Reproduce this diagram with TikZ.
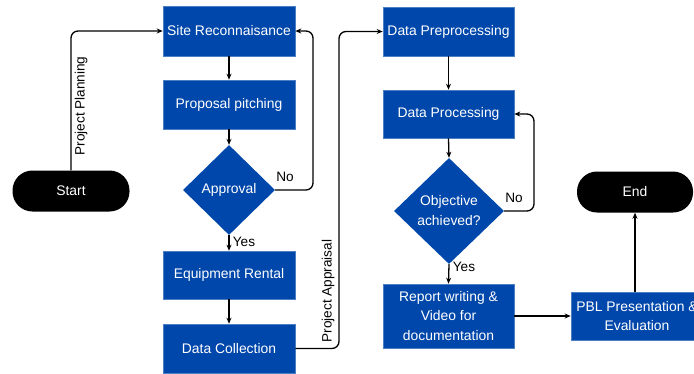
\documentclass[tikz,border=0pt]{standalone}
\usepackage{fontspec}
\setmainfont{Liberation Sans}
\usetikzlibrary{shapes.geometric,arrows.meta}
\definecolor{boxblue}{HTML}{0047AB}
\begin{document}
\begin{tikzpicture}[x=1pt,y=-1pt,
  proc/.style={fill=boxblue,draw=boxblue!70!white,line width=0.6pt,text=white,minimum width=132pt,align=center,inner sep=0pt,font=\fontsize{13.9}{20}\selectfont},
  dec/.style={diamond,fill=boxblue,text=white,inner sep=0pt,align=center,font=\fontsize{13.9}{20}\selectfont},
  term/.style={fill=black,text=white,rounded corners=20pt,minimum width=117pt,minimum height=41pt,inner sep=0pt,font=\fontsize{13.9}{16}\selectfont},
  conn/.style={line width=1.3pt,-{Stealth[length=6pt,width=5pt]},rounded corners=7pt},
  lbl/.style={font=\fontsize{13.6}{16}\selectfont,text=black,inner sep=0pt}]
\useasboundingbox (0,0) rectangle (694,373);
\begin{scope}
\clip (0,0) rectangle (694,373);
% left column
\node[proc,minimum height=50pt] (site) at (229,31) {Site Reconnaisance};
\node[proc,minimum height=49pt] (prop) at (229,104.5) {Proposal pitching};
\node[dec,minimum width=92pt,minimum height=90pt] (appr) at (229,190) {Approval};
\node[proc,minimum height=48pt] (equip) at (229,275) {Equipment Rental};
\node[proc,minimum height=49pt] (coll) at (229,348.5) {Data Collection};
\node[term] (start) at (71,191) {Start};
% middle column
\node[proc,minimum width=131pt,minimum height=49pt] (pre) at (448.5,31.5) {Data Preprocessing};
\node[proc,minimum width=131pt,minimum height=48pt] (dp) at (448.5,114) {Data Processing};
\node[dec,minimum width=110pt,minimum height=106pt] (obj) at (449,211) {Objective\\achieved?};
\node[proc,minimum width=131pt,minimum height=64pt,font=\fontsize{13.9}{19.5}\selectfont] (rep) at (448.5,316) {Report writing \&\\Video for\\documentation};
% right column
\node[proc,minimum width=132pt,minimum height=48pt,font=\fontsize{13.9}{19.5}\selectfont] (pbl) at (637,316) {PBL Presentation \&\\Evaluation};
\node[term,minimum width=116pt] (end) at (635,192) {End};
% connectors
\coordinate (c1) at (71,31);
\draw[conn] (start.north) -- (c1) -- (site.west);
\node[lbl,rotate=90] (pplan) at (81,106) {Project Planning};
\draw[conn] (site.south) -- (prop.north);
\draw[conn] (prop.south) -- (appr.north);
\coordinate (c2) at (313,190);
\coordinate (c3) at (313,31);
\draw[conn] (appr.east) -- (c2) -- (c3) -- (site.east);
\node[lbl] (no1) at (285,177) {No};
\draw[conn] (appr.south) -- (equip.north);
\node[lbl] (yes1) at (244,242) {Yes};
\draw[conn] (equip.south) -- (coll.north);
\coordinate (c4) at (339,348.5);
\coordinate (c5) at (339,31.5);
\draw[conn] (coll.east) -- (c4) -- (c5) -- (pre.west);
\node[lbl,rotate=90] (papp) at (328,291) {Project Appraisal};
\draw[conn] (pre.south) -- (dp.north);
\draw[conn] (dp.south) -- (obj.north);
\coordinate (c6) at (534,211);
\coordinate (c7) at (534,114);
\draw[conn] (obj.east) -- (c6) -- (c7) -- (dp.east);
\node[lbl] (no2) at (514,198) {No};
\draw[conn] (obj.south) -- (rep.north);
\node[lbl] (yes2) at (464,267) {Yes};
\draw[conn] (rep.east) -- (pbl.west);
\draw[conn] (pbl.north -| end.south) -- (end.south);
\end{scope}
\end{tikzpicture}
\end{document}
